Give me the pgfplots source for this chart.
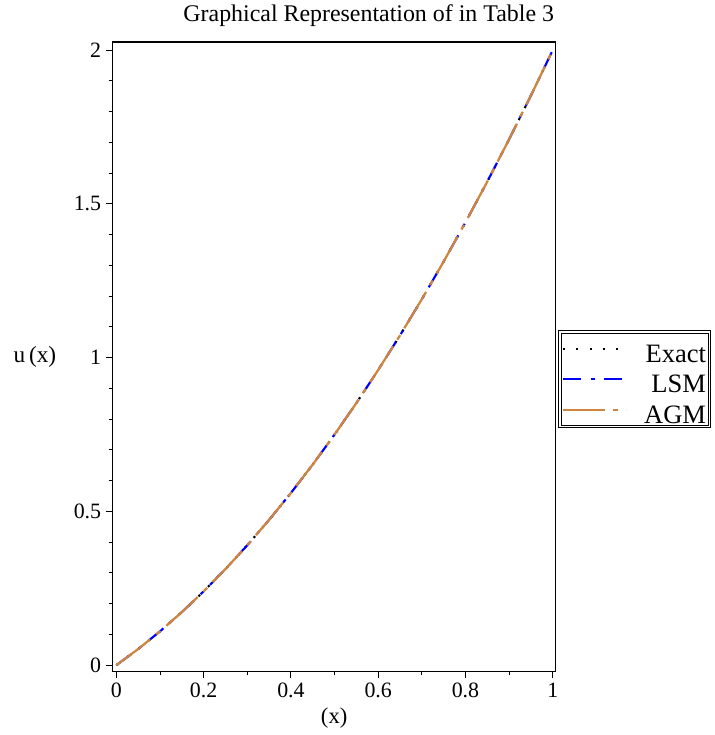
\documentclass[border=0pt]{standalone}
\usepackage{pgfplots}
\pgfplotsset{compat=1.18}
\usepackage{pgfplotstable}
\usepackage{fontspec}
\setmainfont{Liberation Serif}
\definecolor{agm}{RGB}{205,133,63}
\definecolor{lsm}{RGB}{0,0,255}

% x, exact, LSM, AGM
\pgfplotstableread{
x      ex      lsm     agm
0.00   0.0000  0.0000  0.0000
0.05   0.0525  0.0525  0.0525
0.10   0.1100  0.1100  0.1100
0.15   0.1725  0.1725  0.1725
0.20   0.2400  0.2400  0.2400
0.25   0.3125  0.3125  0.3125
0.30   0.3900  0.3900  0.3900
0.35   0.4725  0.4725  0.4725
0.40   0.5600  0.5600  0.5600
0.45   0.6525  0.6525  0.6525
0.50   0.7500  0.7500  0.7500
0.55   0.8525  0.8525  0.8525
0.60   0.9600  0.9600  0.9600
0.65   1.0725  1.0725  1.0725
0.70   1.1900  1.1900  1.1900
0.75   1.3125  1.3125  1.3125
0.80   1.4400  1.4400  1.4400
0.85   1.5725  1.5725  1.5725
0.90   1.7100  1.7100  1.7100
0.95   1.8525  1.8525  1.8525
1.00   2.0000  2.0000  2.0000
}\tabdata

\begin{document}
\begin{tikzpicture}
\begin{axis}[
  scale only axis,
  width=334pt, height=474pt,
  xmin=-0.009, xmax=1.007,
  ymin=-0.02, ymax=2.026,
  xtick={0,0.2,0.4,0.6,0.8,1},
  minor xtick={0.1,0.3,0.5,0.7,0.9},
  ytick={0,0.5,1,1.5,2},
  minor ytick={0.1,0.2,0.3,0.4,0.6,0.7,0.8,0.9,1.1,1.2,1.3,1.4,1.6,1.7,1.8,1.9},
  tick align=outside,
  xtick pos=bottom, ytick pos=left,
  major tick length=5pt, minor tick length=3pt,
  every tick/.style={black, line width=0.8pt},
  axis line style={line width=1pt},
  /pgf/number format/assume math mode=true,
  tick label style={font=\fontsize{16.5}{18}\selectfont},
  xlabel={(x)},
  ylabel={u\,(x)},
  every axis x label/.style={at={(axis description cs:0.5,-0.0823)}, anchor=base,
    font=\fontsize{17}{19}\selectfont},
  every axis y label/.style={at={(axis description cs:-0.175,0.5)}, anchor=center,
    font=\fontsize{17.5}{19}\selectfont},
  title={Graphical Representation of in Table 3},
  title style={font=\fontsize{18}{20}\selectfont, at={(axis description cs:0.578,1.0206)}, anchor=base},
  legend style={at={(axis description cs:1.009,0.5396)}, anchor=north west,
    draw=black, double, double distance=1.3pt, line width=0.7pt,
    font=\fontsize{20}{22}\selectfont, inner xsep=1pt, inner ysep=1pt,
    nodes={inner sep=1.5pt, text height=20pt, text depth=0pt}},
  legend cell align=right,
  legend image code/.code={\draw[#1] (0pt,0pt) -- (48pt,0pt); \path (59pt,0pt);},
  clip=false,
]
\addplot[black, line width=1.6pt, dash pattern=on 1.6pt off 8.5pt] table[x=x, y=ex] {\tabdata};
\addlegendentry{Exact}
\addplot[lsm, line width=1.6pt, dash pattern=on 14pt off 7pt on 3pt off 7pt] table[x=x, y=lsm] {\tabdata};
\addlegendentry{LSM}
\addplot[agm, line width=1.7pt, dash pattern=on 32pt off 6pt on 4pt off 6pt] table[x=x, y=agm] {\tabdata};
\addlegendentry{AGM}
\coordinate (ll) at (rel axis cs:0,0);
\coordinate (ur) at (rel axis cs:1,1);
\end{axis}
\path ([xshift=-84.75pt,yshift=-48pt]ll) rectangle ([xshift=119.25pt,yshift=29.25pt]ur);
\end{tikzpicture}
\end{document}
